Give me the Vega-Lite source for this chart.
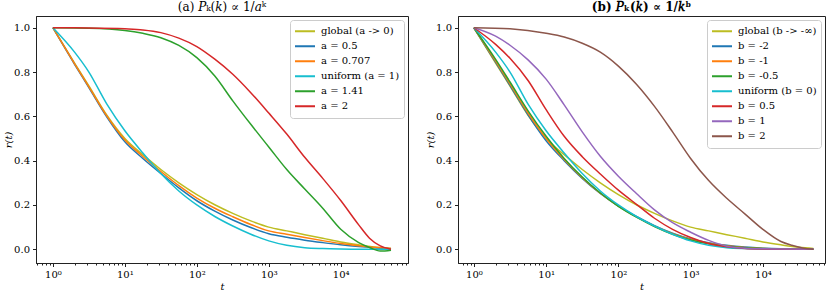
{
  "$schema": "https://vega.github.io/schema/vega-lite/v6.json",
  "padding": {"left": 3, "top": 0, "right": 0, "bottom": 0},
  "background": "white",
  "datasets": {
    "pa": [
      {"s": "global (a -> 0)", "t": 1, "r": 1}, {"s": "global (a -> 0)", "t": 2, "r": 0.84}, {"s": "global (a -> 0)", "t": 3.162, "r": 0.737}, {"s": "global (a -> 0)", "t": 5.623, "r": 0.605}, {"s": "global (a -> 0)", "t": 10, "r": 0.5}, {"s": "global (a -> 0)", "t": 17.78, "r": 0.427}, {"s": "global (a -> 0)", "t": 31.62, "r": 0.36}, {"s": "global (a -> 0)", "t": 56.23, "r": 0.3}, {"s": "global (a -> 0)", "t": 100, "r": 0.247}, {"s": "global (a -> 0)", "t": 177.8, "r": 0.201}, {"s": "global (a -> 0)", "t": 316.2, "r": 0.162}, {"s": "global (a -> 0)", "t": 562.3, "r": 0.128}, {"s": "global (a -> 0)", "t": 1000, "r": 0.1}, {"s": "global (a -> 0)", "t": 1778, "r": 0.083}, {"s": "global (a -> 0)", "t": 3162, "r": 0.066}, {"s": "global (a -> 0)", "t": 5623, "r": 0.05}, {"s": "global (a -> 0)", "t": 10000, "r": 0.033}, {"s": "global (a -> 0)", "t": 17783, "r": 0.02}, {"s": "global (a -> 0)", "t": 31623, "r": 0.009}, {"s": "global (a -> 0)", "t": 50000, "r": 0.004},
      {"s": "a = 0.5", "t": 1, "r": 1}, {"s": "a = 0.5", "t": 2, "r": 0.835}, {"s": "a = 0.5", "t": 3.162, "r": 0.73}, {"s": "a = 0.5", "t": 5.623, "r": 0.597}, {"s": "a = 0.5", "t": 10, "r": 0.485}, {"s": "a = 0.5", "t": 17.78, "r": 0.41}, {"s": "a = 0.5", "t": 31.62, "r": 0.342}, {"s": "a = 0.5", "t": 56.23, "r": 0.277}, {"s": "a = 0.5", "t": 100, "r": 0.219}, {"s": "a = 0.5", "t": 177.8, "r": 0.172}, {"s": "a = 0.5", "t": 316.2, "r": 0.132}, {"s": "a = 0.5", "t": 562.3, "r": 0.098}, {"s": "a = 0.5", "t": 1000, "r": 0.07}, {"s": "a = 0.5", "t": 1778, "r": 0.054}, {"s": "a = 0.5", "t": 3162, "r": 0.041}, {"s": "a = 0.5", "t": 5623, "r": 0.03}, {"s": "a = 0.5", "t": 10000, "r": 0.02}, {"s": "a = 0.5", "t": 17783, "r": 0.012}, {"s": "a = 0.5", "t": 31623, "r": 0.006}, {"s": "a = 0.5", "t": 50000, "r": 0.002},
      {"s": "a = 0.707", "t": 1, "r": 1}, {"s": "a = 0.707", "t": 2, "r": 0.837}, {"s": "a = 0.707", "t": 3.162, "r": 0.733}, {"s": "a = 0.707", "t": 5.623, "r": 0.601}, {"s": "a = 0.707", "t": 10, "r": 0.493}, {"s": "a = 0.707", "t": 17.78, "r": 0.419}, {"s": "a = 0.707", "t": 31.62, "r": 0.351}, {"s": "a = 0.707", "t": 56.23, "r": 0.287}, {"s": "a = 0.707", "t": 100, "r": 0.231}, {"s": "a = 0.707", "t": 177.8, "r": 0.185}, {"s": "a = 0.707", "t": 316.2, "r": 0.147}, {"s": "a = 0.707", "t": 562.3, "r": 0.112}, {"s": "a = 0.707", "t": 1000, "r": 0.083}, {"s": "a = 0.707", "t": 1778, "r": 0.068}, {"s": "a = 0.707", "t": 3162, "r": 0.053}, {"s": "a = 0.707", "t": 5623, "r": 0.039}, {"s": "a = 0.707", "t": 10000, "r": 0.026}, {"s": "a = 0.707", "t": 17783, "r": 0.016}, {"s": "a = 0.707", "t": 31623, "r": 0.008}, {"s": "a = 0.707", "t": 50000, "r": 0.003},
      {"s": "uniform (a = 1)", "t": 1, "r": 1}, {"s": "uniform (a = 1)", "t": 2, "r": 0.89}, {"s": "uniform (a = 1)", "t": 3.162, "r": 0.8}, {"s": "uniform (a = 1)", "t": 5.623, "r": 0.655}, {"s": "uniform (a = 1)", "t": 10, "r": 0.535}, {"s": "uniform (a = 1)", "t": 17.78, "r": 0.435}, {"s": "uniform (a = 1)", "t": 31.62, "r": 0.342}, {"s": "uniform (a = 1)", "t": 56.23, "r": 0.263}, {"s": "uniform (a = 1)", "t": 100, "r": 0.2}, {"s": "uniform (a = 1)", "t": 177.8, "r": 0.148}, {"s": "uniform (a = 1)", "t": 316.2, "r": 0.105}, {"s": "uniform (a = 1)", "t": 562.3, "r": 0.068}, {"s": "uniform (a = 1)", "t": 1000, "r": 0.038}, {"s": "uniform (a = 1)", "t": 1778, "r": 0.018}, {"s": "uniform (a = 1)", "t": 3162, "r": 0.007}, {"s": "uniform (a = 1)", "t": 5623, "r": 0.003}, {"s": "uniform (a = 1)", "t": 10000, "r": 0.001}, {"s": "uniform (a = 1)", "t": 17783, "r": 0.0}, {"s": "uniform (a = 1)", "t": 31623, "r": 0.0}, {"s": "uniform (a = 1)", "t": 50000, "r": 0.0},
      {"s": "a = 1.41", "t": 1, "r": 1}, {"s": "a = 1.41", "t": 3.162, "r": 0.998}, {"s": "a = 1.41", "t": 10, "r": 0.988}, {"s": "a = 1.41", "t": 17.78, "r": 0.975}, {"s": "a = 1.41", "t": 31.62, "r": 0.955}, {"s": "a = 1.41", "t": 56.23, "r": 0.92}, {"s": "a = 1.41", "t": 100, "r": 0.865}, {"s": "a = 1.41", "t": 177.8, "r": 0.782}, {"s": "a = 1.41", "t": 316.2, "r": 0.67}, {"s": "a = 1.41", "t": 562.3, "r": 0.564}, {"s": "a = 1.41", "t": 1000, "r": 0.462}, {"s": "a = 1.41", "t": 1778, "r": 0.36}, {"s": "a = 1.41", "t": 3162, "r": 0.272}, {"s": "a = 1.41", "t": 5623, "r": 0.185}, {"s": "a = 1.41", "t": 10000, "r": 0.09}, {"s": "a = 1.41", "t": 17783, "r": 0.03}, {"s": "a = 1.41", "t": 25119, "r": 0.008}, {"s": "a = 1.41", "t": 35481, "r": -0.008}, {"s": "a = 1.41", "t": 50000, "r": -0.004},
      {"s": "a = 2", "t": 1, "r": 1}, {"s": "a = 2", "t": 3.162, "r": 0.999}, {"s": "a = 2", "t": 10, "r": 0.995}, {"s": "a = 2", "t": 17.78, "r": 0.99}, {"s": "a = 2", "t": 31.62, "r": 0.978}, {"s": "a = 2", "t": 56.23, "r": 0.953}, {"s": "a = 2", "t": 100, "r": 0.915}, {"s": "a = 2", "t": 177.8, "r": 0.858}, {"s": "a = 2", "t": 316.2, "r": 0.79}, {"s": "a = 2", "t": 562.3, "r": 0.707}, {"s": "a = 2", "t": 1000, "r": 0.615}, {"s": "a = 2", "t": 1778, "r": 0.52}, {"s": "a = 2", "t": 3162, "r": 0.415}, {"s": "a = 2", "t": 5623, "r": 0.32}, {"s": "a = 2", "t": 10000, "r": 0.22}, {"s": "a = 2", "t": 17783, "r": 0.11}, {"s": "a = 2", "t": 25119, "r": 0.05}, {"s": "a = 2", "t": 35481, "r": 0.015}, {"s": "a = 2", "t": 50000, "r": 0.0}
    ],
    "pb": [
      {"s": "global (b -> -∞)", "t": 1, "r": 1}, {"s": "global (b -> -∞)", "t": 2, "r": 0.84}, {"s": "global (b -> -∞)", "t": 3.162, "r": 0.737}, {"s": "global (b -> -∞)", "t": 5.623, "r": 0.605}, {"s": "global (b -> -∞)", "t": 10, "r": 0.5}, {"s": "global (b -> -∞)", "t": 17.78, "r": 0.427}, {"s": "global (b -> -∞)", "t": 31.62, "r": 0.36}, {"s": "global (b -> -∞)", "t": 56.23, "r": 0.3}, {"s": "global (b -> -∞)", "t": 100, "r": 0.247}, {"s": "global (b -> -∞)", "t": 177.8, "r": 0.201}, {"s": "global (b -> -∞)", "t": 316.2, "r": 0.162}, {"s": "global (b -> -∞)", "t": 562.3, "r": 0.128}, {"s": "global (b -> -∞)", "t": 1000, "r": 0.1}, {"s": "global (b -> -∞)", "t": 1778, "r": 0.083}, {"s": "global (b -> -∞)", "t": 3162, "r": 0.066}, {"s": "global (b -> -∞)", "t": 5623, "r": 0.05}, {"s": "global (b -> -∞)", "t": 10000, "r": 0.033}, {"s": "global (b -> -∞)", "t": 17783, "r": 0.02}, {"s": "global (b -> -∞)", "t": 31623, "r": 0.009}, {"s": "global (b -> -∞)", "t": 50000, "r": 0.004},
      {"s": "b = -2", "t": 1, "r": 1}, {"s": "b = -2", "t": 2, "r": 0.845}, {"s": "b = -2", "t": 3.162, "r": 0.74}, {"s": "b = -2", "t": 5.623, "r": 0.607}, {"s": "b = -2", "t": 10, "r": 0.49}, {"s": "b = -2", "t": 17.78, "r": 0.4}, {"s": "b = -2", "t": 31.62, "r": 0.32}, {"s": "b = -2", "t": 56.23, "r": 0.252}, {"s": "b = -2", "t": 100, "r": 0.195}, {"s": "b = -2", "t": 177.8, "r": 0.148}, {"s": "b = -2", "t": 316.2, "r": 0.107}, {"s": "b = -2", "t": 562.3, "r": 0.073}, {"s": "b = -2", "t": 1000, "r": 0.047}, {"s": "b = -2", "t": 1778, "r": 0.03}, {"s": "b = -2", "t": 3162, "r": 0.018}, {"s": "b = -2", "t": 5623, "r": 0.01}, {"s": "b = -2", "t": 10000, "r": 0.005}, {"s": "b = -2", "t": 17783, "r": 0.002}, {"s": "b = -2", "t": 50000, "r": 0.0},
      {"s": "b = -1", "t": 1, "r": 1}, {"s": "b = -1", "t": 2, "r": 0.85}, {"s": "b = -1", "t": 3.162, "r": 0.747}, {"s": "b = -1", "t": 5.623, "r": 0.615}, {"s": "b = -1", "t": 10, "r": 0.5}, {"s": "b = -1", "t": 17.78, "r": 0.405}, {"s": "b = -1", "t": 31.62, "r": 0.323}, {"s": "b = -1", "t": 56.23, "r": 0.253}, {"s": "b = -1", "t": 100, "r": 0.195}, {"s": "b = -1", "t": 177.8, "r": 0.146}, {"s": "b = -1", "t": 316.2, "r": 0.104}, {"s": "b = -1", "t": 562.3, "r": 0.07}, {"s": "b = -1", "t": 1000, "r": 0.044}, {"s": "b = -1", "t": 1778, "r": 0.027}, {"s": "b = -1", "t": 3162, "r": 0.016}, {"s": "b = -1", "t": 5623, "r": 0.008}, {"s": "b = -1", "t": 10000, "r": 0.004}, {"s": "b = -1", "t": 17783, "r": 0.002}, {"s": "b = -1", "t": 50000, "r": 0.0},
      {"s": "b = -0.5", "t": 1, "r": 1}, {"s": "b = -0.5", "t": 2, "r": 0.857}, {"s": "b = -0.5", "t": 3.162, "r": 0.755}, {"s": "b = -0.5", "t": 5.623, "r": 0.625}, {"s": "b = -0.5", "t": 10, "r": 0.51}, {"s": "b = -0.5", "t": 17.78, "r": 0.41}, {"s": "b = -0.5", "t": 31.62, "r": 0.326}, {"s": "b = -0.5", "t": 56.23, "r": 0.254}, {"s": "b = -0.5", "t": 100, "r": 0.194}, {"s": "b = -0.5", "t": 177.8, "r": 0.145}, {"s": "b = -0.5", "t": 316.2, "r": 0.103}, {"s": "b = -0.5", "t": 562.3, "r": 0.068}, {"s": "b = -0.5", "t": 1000, "r": 0.042}, {"s": "b = -0.5", "t": 1778, "r": 0.025}, {"s": "b = -0.5", "t": 3162, "r": 0.014}, {"s": "b = -0.5", "t": 5623, "r": 0.007}, {"s": "b = -0.5", "t": 10000, "r": 0.003}, {"s": "b = -0.5", "t": 17783, "r": 0.001}, {"s": "b = -0.5", "t": 50000, "r": 0.0},
      {"s": "uniform (b = 0)", "t": 1, "r": 1}, {"s": "uniform (b = 0)", "t": 2, "r": 0.89}, {"s": "uniform (b = 0)", "t": 3.162, "r": 0.8}, {"s": "uniform (b = 0)", "t": 5.623, "r": 0.655}, {"s": "uniform (b = 0)", "t": 10, "r": 0.535}, {"s": "uniform (b = 0)", "t": 17.78, "r": 0.435}, {"s": "uniform (b = 0)", "t": 31.62, "r": 0.342}, {"s": "uniform (b = 0)", "t": 56.23, "r": 0.263}, {"s": "uniform (b = 0)", "t": 100, "r": 0.2}, {"s": "uniform (b = 0)", "t": 177.8, "r": 0.148}, {"s": "uniform (b = 0)", "t": 316.2, "r": 0.105}, {"s": "uniform (b = 0)", "t": 562.3, "r": 0.068}, {"s": "uniform (b = 0)", "t": 1000, "r": 0.038}, {"s": "uniform (b = 0)", "t": 1778, "r": 0.018}, {"s": "uniform (b = 0)", "t": 3162, "r": 0.007}, {"s": "uniform (b = 0)", "t": 5623, "r": 0.003}, {"s": "uniform (b = 0)", "t": 10000, "r": 0.001}, {"s": "uniform (b = 0)", "t": 17783, "r": 0.0}, {"s": "uniform (b = 0)", "t": 50000, "r": 0.0},
      {"s": "b = 0.5", "t": 1, "r": 1}, {"s": "b = 0.5", "t": 2, "r": 0.925}, {"s": "b = 0.5", "t": 3.162, "r": 0.862}, {"s": "b = 0.5", "t": 5.623, "r": 0.762}, {"s": "b = 0.5", "t": 10, "r": 0.63}, {"s": "b = 0.5", "t": 17.78, "r": 0.51}, {"s": "b = 0.5", "t": 31.62, "r": 0.418}, {"s": "b = 0.5", "t": 56.23, "r": 0.34}, {"s": "b = 0.5", "t": 100, "r": 0.267}, {"s": "b = 0.5", "t": 177.8, "r": 0.203}, {"s": "b = 0.5", "t": 316.2, "r": 0.14}, {"s": "b = 0.5", "t": 562.3, "r": 0.09}, {"s": "b = 0.5", "t": 1000, "r": 0.053}, {"s": "b = 0.5", "t": 1778, "r": 0.026}, {"s": "b = 0.5", "t": 3162, "r": 0.011}, {"s": "b = 0.5", "t": 5623, "r": 0.004}, {"s": "b = 0.5", "t": 10000, "r": 0.001}, {"s": "b = 0.5", "t": 17783, "r": 0.0}, {"s": "b = 0.5", "t": 50000, "r": 0.0},
      {"s": "b = 1", "t": 1, "r": 1}, {"s": "b = 1", "t": 2, "r": 0.962}, {"s": "b = 1", "t": 3.162, "r": 0.921}, {"s": "b = 1", "t": 5.623, "r": 0.855}, {"s": "b = 1", "t": 10, "r": 0.768}, {"s": "b = 1", "t": 17.78, "r": 0.652}, {"s": "b = 1", "t": 31.62, "r": 0.53}, {"s": "b = 1", "t": 56.23, "r": 0.42}, {"s": "b = 1", "t": 100, "r": 0.33}, {"s": "b = 1", "t": 177.8, "r": 0.252}, {"s": "b = 1", "t": 316.2, "r": 0.178}, {"s": "b = 1", "t": 562.3, "r": 0.12}, {"s": "b = 1", "t": 1000, "r": 0.077}, {"s": "b = 1", "t": 1778, "r": 0.04}, {"s": "b = 1", "t": 3162, "r": 0.014}, {"s": "b = 1", "t": 5623, "r": 0.005}, {"s": "b = 1", "t": 10000, "r": 0.002}, {"s": "b = 1", "t": 17783, "r": 0.001}, {"s": "b = 1", "t": 50000, "r": 0.0},
      {"s": "b = 2", "t": 1, "r": 1}, {"s": "b = 2", "t": 3.162, "r": 0.995}, {"s": "b = 2", "t": 10, "r": 0.975}, {"s": "b = 2", "t": 17.78, "r": 0.958}, {"s": "b = 2", "t": 31.62, "r": 0.93}, {"s": "b = 2", "t": 56.23, "r": 0.89}, {"s": "b = 2", "t": 100, "r": 0.827}, {"s": "b = 2", "t": 177.8, "r": 0.745}, {"s": "b = 2", "t": 316.2, "r": 0.645}, {"s": "b = 2", "t": 562.3, "r": 0.53}, {"s": "b = 2", "t": 1000, "r": 0.41}, {"s": "b = 2", "t": 1778, "r": 0.31}, {"s": "b = 2", "t": 3162, "r": 0.23}, {"s": "b = 2", "t": 5623, "r": 0.16}, {"s": "b = 2", "t": 10000, "r": 0.09}, {"s": "b = 2", "t": 17783, "r": 0.035}, {"s": "b = 2", "t": 25119, "r": 0.018}, {"s": "b = 2", "t": 35481, "r": 0.006}, {"s": "b = 2", "t": 50000, "r": 0.0}
    ]
  },
  "hconcat": [
    {
      "width": 372,
      "height": 247,
      "data": {"name": "pa"},
      "title": {"text": "(a) 𝑃ₖ(𝑘) ∝ 1/𝑎ᵏ", "fontWeight": "normal"},
      "mark": {"type": "line", "strokeWidth": 1.5, "interpolate": "monotone"},
      "encoding": {
        "x": {
          "field": "t", "type": "quantitative", "title": "t",
          "scale": {"type": "log", "domain": [0.582, 86100], "nice": false, "zero": false},
          "axis": {
            "values": [0.6, 0.7, 0.8, 0.9, 1, 2, 3, 4, 5, 6, 7, 8, 9, 10, 20, 30, 40, 50, 60, 70, 80, 90, 100, 200, 300, 400, 500, 600, 700, 800, 900, 1000, 2000, 3000, 4000, 5000, 6000, 7000, 8000, 9000, 10000, 20000, 30000, 40000, 50000, 60000, 70000, 80000],
            "labelExpr": "indexof([1,10,100,1000,10000], datum.value) >= 0 ? '10' + ['⁰','¹','²','³','⁴'][indexof([1,10,100,1000,10000], datum.value)] : ''",
            "tickSize": {"condition": {"test": "indexof([1,10,100,1000,10000], datum.value) >= 0", "value": 3.5}, "value": 2}
          }
        },
        "y": {
          "field": "r", "type": "quantitative", "title": "r(t)",
          "scale": {"domain": [-0.062, 1.053], "nice": false, "zero": false},
          "axis": {"values": [0, 0.2, 0.4, 0.6, 0.8, 1.0], "format": ".1f"}
        },
        "color": {
          "field": "s", "type": "nominal",
          "scale": {
            "domain": ["global (a -> 0)", "a = 0.5", "a = 0.707", "uniform (a = 1)", "a = 1.41", "a = 2"],
            "range": ["#bcbd22", "#1f77b4", "#ff7f0e", "#17becf", "#2ca02c", "#d62728"]
          },
          "legend": {"title": null}
        }
      }
    },
    {
      "width": 367,
      "height": 247,
      "data": {"name": "pb"},
      "title": {"text": "(b) 𝑃ₖ(𝑘) ∝ 1/𝑘ᵇ", "fontWeight": "bold"},
      "mark": {"type": "line", "strokeWidth": 1.5, "interpolate": "monotone"},
      "encoding": {
        "x": {
          "field": "t", "type": "quantitative", "title": "t",
          "scale": {"type": "log", "domain": [0.603, 72400], "nice": false, "zero": false},
          "axis": {
            "values": [0.7, 0.8, 0.9, 1, 2, 3, 4, 5, 6, 7, 8, 9, 10, 20, 30, 40, 50, 60, 70, 80, 90, 100, 200, 300, 400, 500, 600, 700, 800, 900, 1000, 2000, 3000, 4000, 5000, 6000, 7000, 8000, 9000, 10000, 20000, 30000, 40000, 50000, 60000, 70000],
            "labelExpr": "indexof([1,10,100,1000,10000], datum.value) >= 0 ? '10' + ['⁰','¹','²','³','⁴'][indexof([1,10,100,1000,10000], datum.value)] : ''",
            "tickSize": {"condition": {"test": "indexof([1,10,100,1000,10000], datum.value) >= 0", "value": 3.5}, "value": 2}
          }
        },
        "y": {
          "field": "r", "type": "quantitative", "title": "r(t)",
          "scale": {"domain": [-0.062, 1.053], "nice": false, "zero": false},
          "axis": {"values": [0, 0.2, 0.4, 0.6, 0.8, 1.0], "format": ".1f"}
        },
        "color": {
          "field": "s", "type": "nominal",
          "scale": {
            "domain": ["global (b -> -∞)", "b = -2", "b = -1", "b = -0.5", "uniform (b = 0)", "b = 0.5", "b = 1", "b = 2"],
            "range": ["#bcbd22", "#1f77b4", "#ff7f0e", "#2ca02c", "#17becf", "#d62728", "#9467bd", "#8c564b"]
          },
          "legend": {"title": null}
        }
      }
    }
  ],
  "spacing": 16,
  "resolve": {"scale": {"color": "independent", "x": "independent", "y": "independent"}, "legend": {"color": "independent"}},
  "config": {
    "font": "DejaVu Serif",
    "view": {"stroke": "#222222", "strokeWidth": 1},
    "title": {"font": "DejaVu Serif", "fontSize": 12, "color": "black", "offset": 2, "anchor": "middle"},
    "axis": {
      "grid": false,
      "domainColor": "#222222",
      "tickColor": "#222222",
      "labelFont": "DejaVu Serif",
      "labelFontSize": 10,
      "labelColor": "black",
      "labelPadding": 3,
      "labelOverlap": false,
      "labelFlush": false,
      "titleFont": "DejaVu Serif",
      "titleFontSize": 10,
      "titleFontStyle": "italic",
      "titleFontWeight": "normal",
      "titleColor": "black",
      "tickSize": 3.5
    },
    "axisY": {"titlePadding": 0},
    "axisX": {"titlePadding": 2},
    "legend": {
      "orient": "top-right",
      "offset": 4,
      "fillColor": "white",
      "strokeColor": "#cccccc",
      "cornerRadius": 3,
      "padding": 4,
      "symbolType": "stroke",
      "symbolSize": 400,
      "symbolStrokeWidth": 2,
      "labelFont": "DejaVu Serif",
      "labelFontSize": 10,
      "labelColor": "black",
      "labelOffset": 5,
      "clipHeight": 14.4,
      "rowPadding": 0
    }
  }
}
